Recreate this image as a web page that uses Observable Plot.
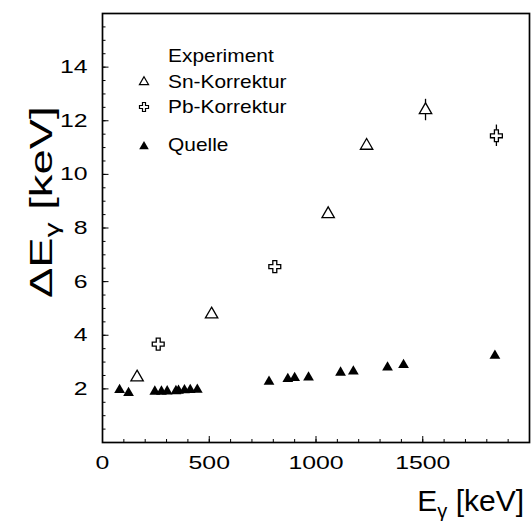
<!DOCTYPE html>
<html><head><meta charset="utf-8">
<script src="https://cdn.jsdelivr.net/npm/d3@7"></script>
<script src="https://cdn.jsdelivr.net/npm/@observablehq/plot@0.6"></script>
<style>
body{margin:0;background:#fff}
svg{font-family:"Liberation Sans",Arial,Helvetica,sans-serif}
</style>
</head><body><div id="chart"></div>
<script>
// Quelle (source) measurements: gamma energy [keV] and ΔE [keV]
const quelleE  = [80, 122, 245, 276, 303, 344, 356, 384, 411, 444, 780, 868, 900, 965, 1115, 1175, 1335, 1410, 1838];
const quelleDE = [1.96, 1.85, 1.90, 1.90, 1.91, 1.92, 1.93, 1.95, 1.96, 1.97, 2.27, 2.37, 2.41, 2.43, 2.61, 2.65, 2.80, 2.89, 3.24];
// Experiment, Sn-Korrektur
const snE   = [162, 511, 1057, 1237, 1513];
const snDE  = [2.43, 4.78, 8.52, 11.07, 12.40];
const snErr = [0, 0, 0, 0, 0.4];
// Experiment, Pb-Korrektur
const pbE   = [261, 807, 1845];
const pbDE  = [3.67, 6.56, 11.44];
const pbErr = [0, 0, 0.4];

// axis ticks
const xLabelTicks = [0, 500, 1000, 1500];
const xMajorTicks = [0, 500, 1000, 1500, 2000];
const xMinorTicks = d3.range(0, 2001, 100);
const yLabelTicks = [2, 4, 6, 8, 10, 12, 14];
const yMajorTicks = [0, 2, 4, 6, 8, 10, 12, 14, 16];
const yMinorTicks = d3.range(0, 16.01, 0.5);

const legendTitle = "Experiment";
const legendSeries = ["Sn-Korrektur", "Pb-Korrektur", "Quelle"];

const quelle = quelleE.map((e, i) => ({e, de: quelleDE[i]}));
const sn = snE.map((e, i) => ({e, de: snDE[i], err: snErr[i]}));
const pb = pbE.map((e, i) => ({e, de: pbDE[i], err: pbErr[i]}));
const errs = [...sn, ...pb].filter(d => d.err > 0);

const plot = Plot.plot({
  width: 531, height: 521,
  marginLeft: 102, marginRight: 2, marginTop: 13, marginBottom: 79,
  x: {domain: [0, 2000]},
  y: {domain: [0, 16]},
  style: {fontFamily: '"Liberation Sans",Arial,sans-serif', fontSize: "19px", color: "black", background: "white"},
  marks: [
    Plot.axisX(xMinorTicks, {tickSize: 3, dy: -3, fill: "none", label: null}),
    Plot.axisX(xMajorTicks, {tickSize: 6, dy: -6, fill: "none", label: null}),
    Plot.axisX(xLabelTicks, {tickSize: 0, tickPadding: 13, label: null, fontSize: 19, tickFormat: "d"}),
    Plot.axisY(yMinorTicks, {tickSize: 3.5, dx: 3.5, fill: "none", label: null}),
    Plot.axisY(yMajorTicks, {tickSize: 6.5, dx: 6.5, fill: "none", label: null}),
    Plot.axisY(yLabelTicks, {tickSize: 0, tickPadding: 15, label: null, fontSize: 19, tickFormat: "d"}),
    Plot.frame({stroke: "black", strokeWidth: 1.7}),
    Plot.ruleX(errs, {x: "e", y1: d => d.de - d.err, y2: d => d.de + d.err, stroke: "black", strokeWidth: 1.3}),
    Plot.dot(quelle, {x: "e", y: "de", symbol: "triangle", fill: "black", stroke: "none", r: 4.0}),
    Plot.dot(sn, {x: "e", y: "de", symbol: "triangle", fill: "white", stroke: "black", strokeWidth: 1.3, r: 4.6}),
    Plot.dot(pb, {x: "e", y: "de", symbol: "cross", fill: "white", stroke: "black", strokeWidth: 1.3, r: 5.0})
  ]
});

document.getElementById("chart").appendChild(plot);
const svg = d3.select(plot);

// widen tick label glyphs as in the reference
svg.selectAll('g[aria-label="x-axis tick label"] text, g[aria-label="y-axis tick label"] text')
  .each(function() {
    const n = this.textContent.length;
    this.setAttribute("textLength", n * 13.8);
    this.setAttribute("lengthAdjust", "spacingAndGlyphs");
  });

// axis titles with subscript gamma
const xt = svg.append("text").attr("x", 524).attr("y", 511).attr("text-anchor", "end")
  .attr("font-size", 30).attr("fill", "black");
xt.append("tspan").text("E");
xt.append("tspan").attr("font-size", 20).attr("dy", 7).text("γ");
xt.append("tspan").attr("dy", -7).text(" [keV]");

const yt = svg.append("text").attr("transform", "translate(52,298) rotate(-90) scale(1.42,1)").attr("text-anchor", "start")
  .attr("font-size", 32).attr("fill", "black");
yt.append("tspan").text("ΔE");
yt.append("tspan").attr("font-size", 21).attr("dy", 7).text("γ");
yt.append("tspan").attr("dy", -7).text(" [keV]");

// legend
const lg = svg.append("g").attr("font-size", 19).attr("fill", "black").attr("text-anchor", "start");
const t0 = lg.append("text").attr("x", 168).attr("y", 62).text(legendTitle);
t0.attr("textLength", t0.node().getComputedTextLength() * 1.1).attr("lengthAdjust", "spacingAndGlyphs");
const rows = [
  {y: 88, sy: 82, type: d3.symbolTriangle, fill: "white", size: 36},
  {y: 113, sy: 107, type: d3.symbolCross, fill: "white", size: 45},
  {y: 151, sy: 146.5, type: d3.symbolTriangle, fill: "black", size: 40}
];
rows.forEach((r, i) => {
  lg.append("path").attr("d", d3.symbol(r.type, r.size)())
    .attr("transform", `translate(144,${r.sy})`)
    .attr("fill", r.fill).attr("stroke", r.fill === "black" ? "none" : "black").attr("stroke-width", 1.2);
  const t = lg.append("text").attr("x", 168).attr("y", r.y).text(legendSeries[i]);
  t.attr("textLength", t.node().getComputedTextLength() * 1.1).attr("lengthAdjust", "spacingAndGlyphs");
});
</script>
</body></html>
